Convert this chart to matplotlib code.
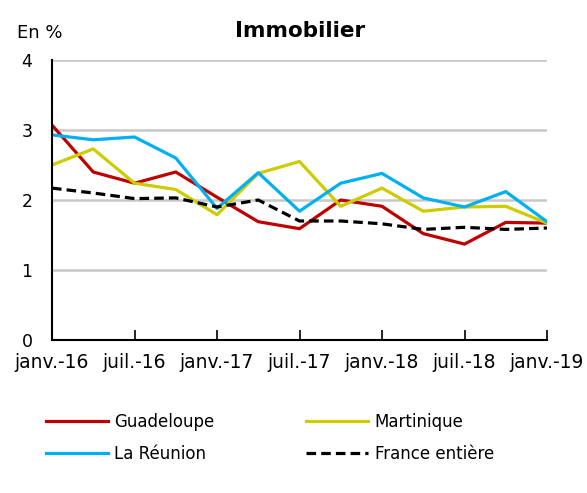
import matplotlib
matplotlib.use("Agg")
import matplotlib.pyplot as plt
from matplotlib.lines import Line2D

# Données trimestrielles, janv.-16 à janv.-19
trimestres = ["janv.-16", "avr.-16", "juil.-16", "oct.-16", "janv.-17", "avr.-17",
              "juil.-17", "oct.-17", "janv.-18", "avr.-18", "juil.-18", "oct.-18", "janv.-19"]
guadeloupe = [3.07, 2.40, 2.24, 2.40, 2.04, 1.69, 1.59, 2.00, 1.91, 1.52, 1.37, 1.68, 1.67]
martinique = [2.50, 2.73, 2.24, 2.15, 1.79, 2.38, 2.55, 1.91, 2.17, 1.84, 1.90, 1.91, 1.67]
reunion = [2.93, 2.86, 2.90, 2.60, 1.88, 2.39, 1.84, 2.24, 2.38, 2.03, 1.90, 2.12, 1.69]
france = [2.17, 2.10, 2.02, 2.03, 1.90, 2.00, 1.70, 1.70, 1.66, 1.58, 1.61, 1.58, 1.60]

plt.rcParams["font.family"] = "DejaVu Sans"

fig = plt.figure(figsize=(5.87, 4.93), dpi=100)
ax = fig.add_axes([52 / 587, 1 - 340 / 493, 495 / 587, 280 / 493])

x = list(range(len(trimestres)))
lw = 2.3
dash = (0, (3, 1.6))
ax.plot(x, guadeloupe, color="#C00000", lw=lw, zorder=3)
ax.plot(x, martinique, color="#CCCC00", lw=lw, zorder=3)
ax.plot(x, reunion, color="#00B0F0", lw=lw, zorder=3)
ax.plot(x, france, color="black", lw=lw, ls=dash, zorder=4)

ax.set_xlim(0, 12)
ax.set_ylim(0, 4)
ax.set_xticks(x[::2])
ax.set_xticklabels(trimestres[::2], fontsize=13.5)
ax.set_yticks([0, 1, 2, 3, 4])
ax.set_yticklabels(["0", "1", "2", "3", "4"], fontsize=12.5)
ax.tick_params(axis="y", length=0, pad=14)
ax.tick_params(axis="x", direction="in", length=7, width=1.2, pad=9)

ax.grid(axis="y", color="#C8C8C8", lw=1.8)
ax.set_axisbelow(True)
for side in ["top", "right"]:
    ax.spines[side].set_visible(False)
for side in ["left", "bottom"]:
    ax.spines[side].set_linewidth(1.5)
    ax.spines[side].set_zorder(5)

fig.text(300 / 587, 1 - 31 / 493, "Immobilier", ha="center", va="center",
         fontsize=15.5, fontweight="bold")
fig.text(17 / 587, 1 - 33 / 493, "En %", ha="left", va="center", fontsize=13)

handles = [
    Line2D([], [], color="#C00000", lw=lw),
    Line2D([], [], color="#00B0F0", lw=lw),
    Line2D([], [], color="#CCCC00", lw=lw),
    Line2D([], [], color="black", lw=lw, ls=dash),
]
labels = ["Guadeloupe", "La Réunion", "Martinique", "France entière"]
fig.legend(handles, labels, ncol=2, loc="upper left",
           bbox_to_anchor=(31 / 587, 1 - 398 / 493), frameon=False,
           fontsize=12, handlelength=3.7, handletextpad=0.4,
           columnspacing=5.5, labelspacing=0.85)

fig.savefig("out.png", dpi=100)
